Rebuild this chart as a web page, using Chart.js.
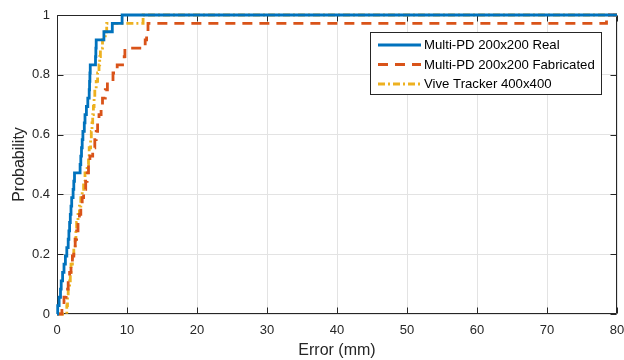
<!DOCTYPE html>
<html>
<head>
<meta charset="utf-8">
<script src="https://cdn.jsdelivr.net/npm/chart.js@4/dist/chart.umd.min.js"></script>
<style>
html,body{margin:0;padding:0;background:#fff;}
#wrap{width:624px;height:360px;position:relative;}
</style>
</head>
<body>
<div id="wrap"><canvas id="c" width="624" height="360"></canvas></div>
<script>
// ---- data ----
const seriesNames = ["Multi-PD 200x200 Real", "Multi-PD 200x200 Fabricated", "Vive Tracker 400x400"];
const xTicks = [0, 10, 20, 30, 40, 50, 60, 70, 80];
const yTicks = [0, 0.2, 0.4, 0.6, 0.8, 1];

const realX = [0, 0.1, 0.3, 0.5, 0.6, 0.8, 1.0, 1.2, 1.4, 1.6, 1.7, 1.8, 1.9, 2.0, 2.1, 2.3, 2.4, 2.5,
  3.3, 3.4, 3.5, 3.6, 3.7, 3.9, 4.0, 4.2, 4.4, 4.6, 4.65, 4.7, 4.75, 5.5, 5.55, 5.6, 6.7, 7.9, 9.3, 80];
const realY = [0, 0.028, 0.056, 0.083, 0.111, 0.139, 0.167, 0.194, 0.222, 0.25, 0.278, 0.306, 0.333, 0.361, 0.389, 0.417, 0.444, 0.472,
  0.5, 0.528, 0.556, 0.583, 0.611, 0.639, 0.667, 0.694, 0.722, 0.75, 0.778, 0.806, 0.833, 0.861, 0.889, 0.917, 0.944, 0.972, 1, 1];

const fabX = [0, 0.7, 1.0, 1.3, 1.6, 1.8, 2.0, 2.2, 2.4, 2.6, 2.8, 3.0, 3.2, 3.4, 3.6, 3.8, 4.1, 4.3,
  4.5, 4.7, 5.1, 5.4, 5.6, 5.8, 6.0, 6.3, 6.5, 6.9, 7.2, 8.0, 8.6, 9.6, 9.7, 12.6, 12.8, 13.0, 78.5, 80];
const fabY = [0, 0.028, 0.056, 0.083, 0.111, 0.139, 0.167, 0.194, 0.222, 0.25, 0.278, 0.306, 0.333, 0.361, 0.389, 0.417, 0.444, 0.472,
  0.5, 0.528, 0.556, 0.583, 0.611, 0.639, 0.667, 0.694, 0.722, 0.75, 0.778, 0.806, 0.833, 0.861, 0.889, 0.917, 0.944, 0.972, 1, 1];

const viveX = [0, 1.4, 1.5, 1.6, 1.8, 1.9, 2.0, 2.2, 2.4, 2.6, 2.7, 2.8, 3.0, 3.2, 3.4, 3.6, 3.8, 4.0,
  4.3, 4.5, 4.6, 4.8, 4.9, 5.0, 5.1, 5.2, 5.3, 5.4, 5.6, 5.8, 6.0, 6.1, 6.2, 6.5, 6.9, 7.1, 12.3, 80];
const viveY = [0, 0.028, 0.056, 0.083, 0.111, 0.139, 0.167, 0.194, 0.222, 0.25, 0.278, 0.306, 0.333, 0.361, 0.389, 0.417, 0.444, 0.472,
  0.5, 0.528, 0.556, 0.583, 0.611, 0.639, 0.667, 0.694, 0.722, 0.75, 0.778, 0.806, 0.833, 0.861, 0.889, 0.917, 0.944, 0.972, 1, 1];

const toPts = (xs, ys) => xs.map((x, i) => ({x: x, y: ys[i]}));

const AXIS = '#262626';
const FONT = '"Liberation Sans", Arial, Helvetica, sans-serif';

const styles = [
  {color: '#0072BD', dash: []},
  {color: '#D95319', dash: [10, 7]},
  {color: '#EDB120', dash: [7, 3, 2, 3]}
];

// frame + inward ticks + legend
const framePlugin = {
  id: 'frame',
  beforeDatasetsDraw(chart) {
    const {ctx, chartArea: a, scales} = chart;
    ctx.save();
    ctx.strokeStyle = AXIS;
    ctx.lineWidth = 1;
    ctx.beginPath();
    const L = Math.round(a.left) + 0.5, R = Math.round(a.right) - 0.5;
    const T = Math.round(a.top) + 0.5, B = Math.round(a.bottom) - 0.5;
    ctx.rect(L, T, R - L, B - T);
    const tl = 6;
    xTicks.forEach(v => {
      const px = Math.round(scales.x.getPixelForValue(v)) + 0.5;
      ctx.moveTo(px, B); ctx.lineTo(px, B - tl);
      ctx.moveTo(px, T); ctx.lineTo(px, T + tl);
    });
    yTicks.forEach(v => {
      const py = Math.round(scales.y.getPixelForValue(v)) + 0.5;
      ctx.moveTo(L, py); ctx.lineTo(L + tl, py);
      ctx.moveTo(R, py); ctx.lineTo(R - tl, py);
    });
    ctx.stroke();
    ctx.restore();
  },
  afterDatasetsDraw(chart) {
    const {ctx} = chart;
    ctx.save();
    const bx = 370.5, by = 32.5, bw = 231, bh = 62;
    ctx.fillStyle = '#fff';
    ctx.fillRect(bx, by, bw, bh);
    ctx.strokeStyle = AXIS;
    ctx.lineWidth = 1;
    ctx.strokeRect(bx, by, bw, bh);
    ctx.font = '13.2px ' + FONT;
    ctx.textBaseline = 'middle';
    ctx.textAlign = 'left';
    const rows = [45, 64.5, 84];
    seriesNames.forEach((name, i) => {
      const y = rows[i];
      ctx.beginPath();
      ctx.strokeStyle = styles[i].color;
      ctx.lineWidth = 2.8;
      ctx.setLineDash(styles[i].dash);
      ctx.moveTo(378, y); ctx.lineTo(421, y);
      ctx.stroke();
      ctx.setLineDash([]);
      ctx.fillStyle = '#000';
      ctx.fillText(name, 424, y + 0.5);
    });
    ctx.restore();
  }
};

new Chart(document.getElementById('c'), {
  type: 'line',
  data: {
    datasets: [
      {label: seriesNames[0], data: toPts(realX, realY), borderColor: styles[0].color, borderDash: styles[0].dash},
      {label: seriesNames[1], data: toPts(fabX, fabY), borderColor: styles[1].color, borderDash: styles[1].dash},
      {label: seriesNames[2], data: toPts(viveX, viveY), borderColor: styles[2].color, borderDash: styles[2].dash}
    ].map(d => Object.assign(d, {stepped: 'before', borderWidth: 2.8, pointRadius: 0, fill: false, tension: 0, clip: 4}))
  },
  options: {
    responsive: false,
    animation: false,
    devicePixelRatio: 1,
    layout: {padding: {top: 15, right: 0, left: 0, bottom: 0}},
    plugins: {legend: {display: false}, tooltip: {enabled: false}},
    scales: {
      x: {
        type: 'linear', min: 0, max: 80,
        afterBuildTicks: s => { s.ticks = xTicks.map(v => ({value: v})); },
        afterFit: s => { s.height = 46; s.paddingRight = 7; },
        grid: {color: '#e3e3e3', drawTicks: false, lineWidth: 1},
        border: {display: false},
        ticks: {color: AXIS, font: {family: FONT, size: 13}, padding: 9, maxRotation: 0},
        title: {display: true, text: 'Error (mm)', color: AXIS, font: {family: FONT, size: 16}, padding: {top: 3, bottom: 0}}
      },
      y: {
        type: 'linear', min: 0, max: 1,
        afterBuildTicks: s => { s.ticks = yTicks.map(v => ({value: v})); },
        afterFit: s => { s.width = 57; },
        grid: {color: '#e3e3e3', drawTicks: false, lineWidth: 1},
        border: {display: false},
        ticks: {color: AXIS, font: {family: FONT, size: 13}, padding: 7, callback: v => String(v)},
        title: {display: true, text: 'Probability', color: AXIS, font: {family: FONT, size: 16}, padding: {top: 10, bottom: 0}}
      }
    }
  },
  plugins: [framePlugin]
});
</script>
</body>
</html>
